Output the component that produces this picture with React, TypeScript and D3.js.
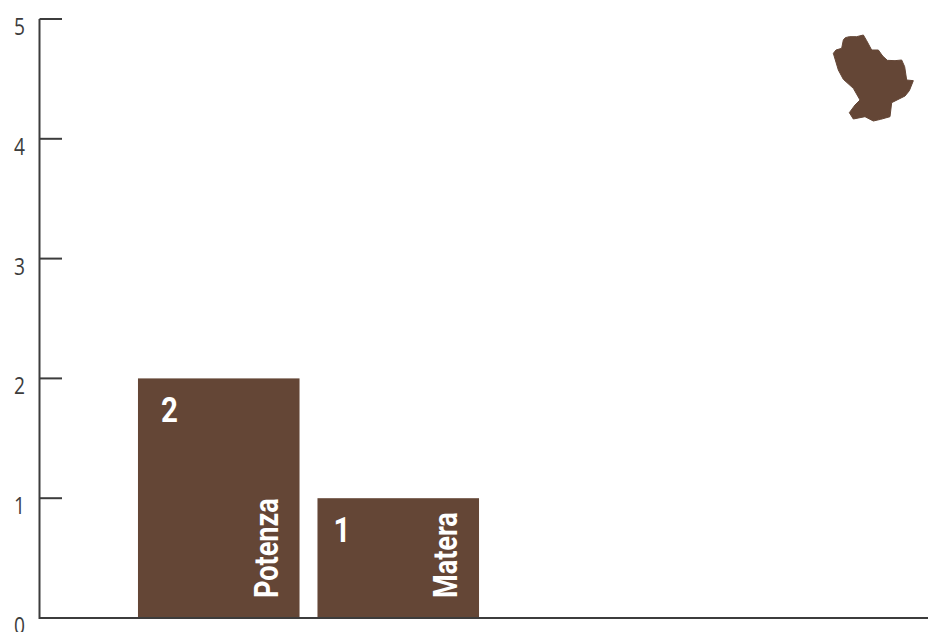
import React from "react";
import * as d3 from "d3";

const categories = ["Potenza", "Matera"];
const values = [2, 1];
const yTicks = [0, 1, 2, 3, 4, 5];
const regionOutline: [number, number][] = [
  [100, 60], [106, 53], [118, 50], [140, 50], [160, 45], [170, 62], [185, 90], [205, 90], [218, 108], [232, 121], [255, 122], [275, 120],
  [284, 140], [290, 180], [310, 182], [298, 212], [285, 228], [245, 248], [240, 290], [212, 298], [190, 303], [165, 290], [130, 297], [118, 278],
  [135, 255], [150, 240], [130, 205], [100, 178], [85, 150], [70, 100], [78, 90], [95, 85],
];

const W = 928, H = 632;
const brown = "#644636", ink = "#3c3c3c";
const sans = "'Open Sans',sans-serif";
const bold = "Roboto,sans-serif";
const valueInset = [23, 16];

export default function App() {
  const y = d3.scaleLinear().domain([0, 5]).range([618, 19]);
  const x = d3.scaleBand<string>().domain(categories).range([129, 488]).paddingInner(0.1).paddingOuter(0.05);
  const mx = d3.scaleLinear().domain([0, 354]).range([810, 928]);
  const my = d3.scaleLinear().domain([0, 330]).range([20, 130]);
  const map = d3.line<[number, number]>().x(d => mx(d[0])).y(d => my(d[1])).curve(d3.curveLinearClosed)(regionOutline) || "";
  return (
    <svg width={W} height={H} viewBox={`0 0 ${W} ${H}`} style={{ position: "absolute", left: 0, top: 0, background: "#fff" }}>
      {categories.map((c, i) => {
        const bx = x(c)!, bw = x.bandwidth(), top = y(values[i]);
        return (
          <g key={c}>
            <rect x={bx} y={top} width={bw} height={y(0) - top} fill={brown} />
            <text transform={`translate(${bx + valueInset[i]},${top + 44}) scale(0.82,1)`} fill="#fff" fontFamily={bold} fontWeight={700} fontSize={36}>{values[i]}</text>
            <text transform={`translate(${bx + bw - 22},${y(0) - 20}) rotate(-90) scale(0.82,1)`} fill="#fff" fontFamily={bold} fontWeight={700} fontSize={33}>{c}</text>
          </g>
        );
      })}
      <path d={`M39.5,${y(5)}V${y(0)}H${W}`} fill="none" stroke={ink} strokeWidth={2} />
      {yTicks.map(t => (
        <g key={t}>
          <line x1={39.5} x2={62} y1={y(t)} y2={y(t)} stroke={ink} strokeWidth={2} />
          <text transform={`translate(19.5,${y(t) + 16}) scale(0.8,1)`} textAnchor="middle" fill={ink} fontFamily={sans} fontSize={24}>{t}</text>
        </g>
      ))}
      <path d={map} fill={brown} stroke={brown} strokeWidth={1} strokeLinejoin="round" />
    </svg>
  );
}
